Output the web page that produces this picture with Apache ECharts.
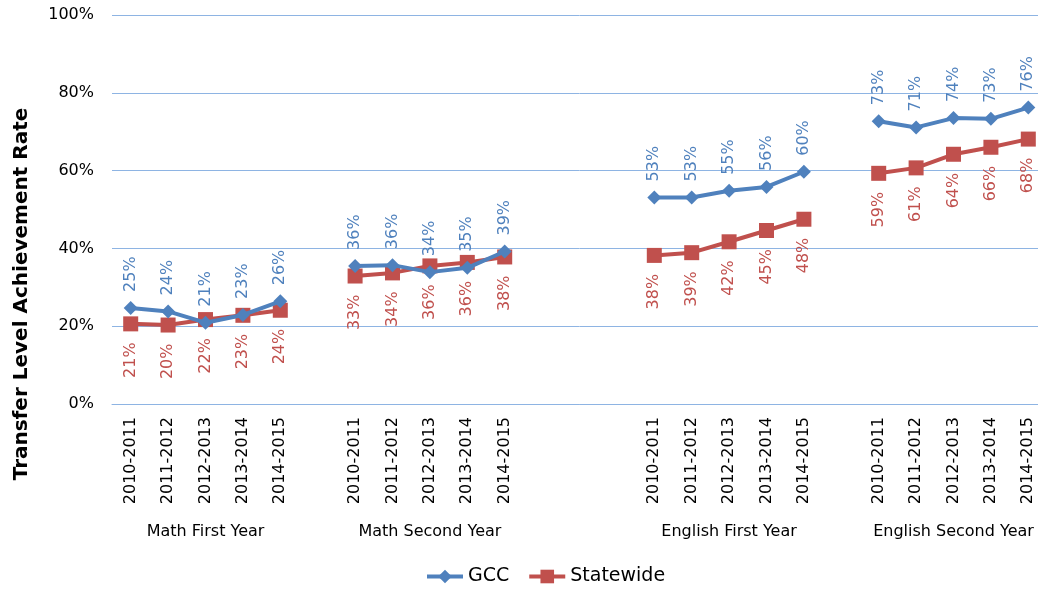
<!DOCTYPE html>
<html>
<head>
<meta charset="utf-8">
<script src="https://cdn.jsdelivr.net/npm/echarts@6/dist/echarts.min.js"></script>
<style>
  html, body { margin: 0; padding: 0; background: #fff; overflow: hidden; }
  /* the plot area runs a little past the right edge of the window, as in the original */
  #chart { width: 1047px; height: 593px; }
</style>
</head>
<body>
<div id="chart"></div>
<script>
const groups = ['Math First Year', 'Math Second Year', 'English First Year', 'English Second Year'];
const years = ['2010-2011', '2011-2012', '2012-2013', '2013-2014', '2014-2015'];
// empty slots placed before each group (gaps in the axis)
const gapsBefore = [0, 1, 3, 1];

const gccMathFirst = [24.7, 23.8, 20.9, 22.9, 26.4];
const gccMathSecond = [35.5, 35.7, 33.9, 35.0, 39.2];
const gccEnglishFirst = [53.1, 53.1, 54.8, 55.8, 59.7];
const gccEnglishSecond = [72.7, 71.1, 73.5, 73.3, 76.2];

const stateMathFirst = [20.6, 20.3, 21.7, 22.8, 24.1];
const stateMathSecond = [32.9, 33.7, 35.5, 36.4, 37.8];
const stateEnglishFirst = [38.2, 38.9, 41.7, 44.6, 47.5];
const stateEnglishSecond = [59.3, 60.7, 64.2, 66.0, 68.1];

const gccByGroup = [gccMathFirst, gccMathSecond, gccEnglishFirst, gccEnglishSecond];
const stateByGroup = [stateMathFirst, stateMathSecond, stateEnglishFirst, stateEnglishSecond];

const yTicks = [0, 20, 40, 60, 80, 100];

const BLUE = '#4F81BD';
const RED = '#C0504D';
const FONT = 'DejaVu Sans';

// build the flat category list with blank slots between groups
const yearCats = [];
const groupCats = [];
const gccData = [];
const stateData = [];
groups.forEach((g, gi) => {
    for (let k = 0; k < gapsBefore[gi]; k++) {
        yearCats.push('gap' + gi + '_' + k);
        groupCats.push('gap' + gi + '_' + k);
        gccData.push('-');
        stateData.push('-');
    }
    years.forEach((y, yi) => {
        yearCats.push(g + '|' + y);
        groupCats.push(yi === 2 ? g : g + '_' + yi);
        gccData.push(gccByGroup[gi][yi]);
        stateData.push(stateByGroup[gi][yi]);
    });
});

const chart = echarts.init(document.getElementById('chart'));

const pctLabel = p => Math.round(p.value) + '%';

const option = {
    animation: false,
    textStyle: { fontFamily: FONT },
    grid: { left: 112, top: 15, right: 0, bottom: 189, containLabel: false },
    legend: {
        data: ['GCC', 'Statewide'],
        left: 420,
        bottom: 2,
        itemWidth: 36,
        itemHeight: 17,
        itemGap: 18,
        lineStyle: { width: 4 },
        textStyle: { fontFamily: FONT, fontSize: 19, color: '#000' }
    },
    graphic: [{
        type: 'text',
        x: 22,
        y: 294,
        rotation: Math.PI / 2,
        style: {
            text: 'Transfer Level Achievement Rate',
            font: 'bold 20px "DejaVu Sans"',
            fill: '#000',
            align: 'center',
            verticalAlign: 'middle'
        }
    }],
    xAxis: [{
        type: 'category',
        data: yearCats,
        boundaryGap: true,
        axisLine: { show: true, lineStyle: { color: '#8EB4E3', width: 1 } },
        axisTick: { show: false },
        axisLabel: {
            interval: 0,
            rotate: 90,
            margin: 13,
            fontSize: 16,
            color: '#000',
            fontFamily: FONT,
            formatter: v => v.startsWith('gap') ? '' : v.split('|')[1]
        }
    }, {
        type: 'category',
        data: groupCats,
        position: 'bottom',
        offset: 112,
        boundaryGap: true,
        axisLine: { show: false },
        axisTick: { show: false },
        axisLabel: {
            interval: 0,
            margin: 8,
            fontSize: 16,
            color: '#000',
            fontFamily: FONT,
            formatter: v => groups.includes(v) ? v : ''
        }
    }],
    yAxis: {
        type: 'value',
        min: yTicks[0],
        max: yTicks[yTicks.length - 1],
        interval: 20,
        axisLine: { show: false },
        axisTick: { show: false },
        splitLine: { lineStyle: { color: '#8EB4E3', width: 1 } },
        axisLabel: {
            margin: 18,
            fontSize: 16,
            color: '#000',
            fontFamily: FONT,
            formatter: '{value}%'
        }
    },
    series: [{
        name: 'GCC',
        type: 'line',
        data: gccData,
        connectNulls: false,
        symbol: 'diamond',
        symbolSize: 14,
        lineStyle: { color: BLUE, width: 4 },
        itemStyle: { color: BLUE },
        z: 3,
        label: {
            show: true,
            position: 'top',
            distance: 9,
            rotate: 90,
            align: 'left',
            verticalAlign: 'middle',
            fontSize: 16,
            color: BLUE,
            fontFamily: FONT,
            formatter: pctLabel
        }
    }, {
        name: 'Statewide',
        type: 'line',
        data: stateData,
        connectNulls: false,
        symbol: 'rect',
        symbolSize: 15,
        lineStyle: { color: RED, width: 4 },
        itemStyle: { color: RED },
        z: 2,
        label: {
            show: true,
            position: 'bottom',
            distance: 11,
            rotate: 90,
            align: 'right',
            verticalAlign: 'middle',
            fontSize: 16,
            color: RED,
            fontFamily: FONT,
            formatter: pctLabel
        }
    }]
};

chart.setOption(option);

window.addEventListener('resize', () => {
    chart.resize();
});
</script>
</body>
</html>
